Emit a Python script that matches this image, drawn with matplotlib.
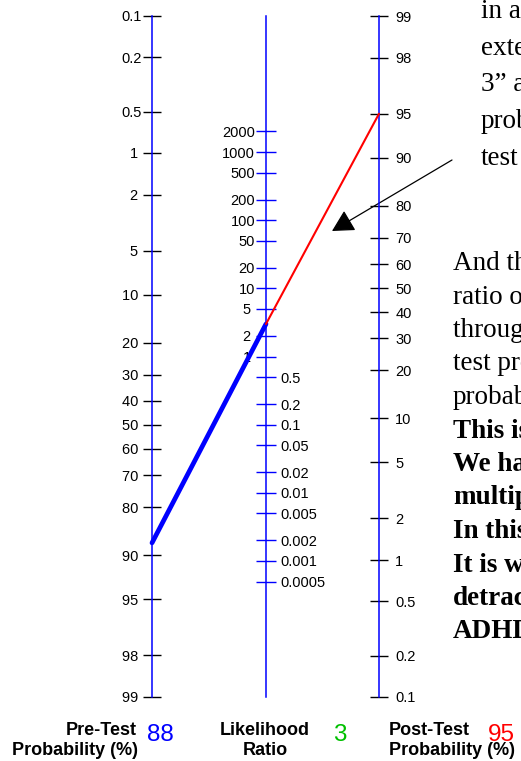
import numpy as np
import matplotlib.pyplot as plt
from matplotlib.patches import ConnectionPatch
from matplotlib.ticker import NullLocator

plt.rcParams['font.family'] = ['Liberation Sans', 'DejaVu Sans']

# nomogram values
pre_ticks = [0.1, 0.2, 0.5, 1, 2, 5, 10, 20, 30, 40, 50, 60, 70, 80, 90, 95, 98, 99]
post_ticks = [99, 98, 95, 90, 80, 70, 60, 50, 40, 30, 20, 10, 5, 2, 1, 0.5, 0.2, 0.1]
lr_ticks_hi = [2000, 1000, 500, 200, 100, 50, 20, 10, 5, 2, 1]
lr_ticks_lo = [0.5, 0.2, 0.1, 0.05, 0.02, 0.01, 0.005, 0.002, 0.001, 0.0005]
pre_test = 88
likelihood_ratio = 3
post_test = 95

# text on the right (cut off by the screenshot)
text_top = ['in a child', 'extend the', '3” and', 'probability', 'test']
text_body = ['And then the', 'ratio of 3', 'through the', 'test probability', 'probability']
text_bold = ['This is', 'We have', 'multiplied', 'In this', 'It is worth', 'detract', 'ADHD']

W, H = 521, 761
fig = plt.figure(figsize=(W / 100, H / 100), dpi=100)

bg = fig.add_axes([0, 0, 1, 1])
bg.set_xlim(0, W)
bg.set_ylim(H, 0)
bg.axis('off')

TOP, BOT = 16, 697
p_lo, p_hi = 0.001, 0.99
lr_hi = (p_hi / (1 - p_hi)) / (p_lo / (1 - p_lo))


def nomo_axis(xpx):
    ax = fig.add_axes([xpx / W, 1 - BOT / H, 0.0005, (BOT - TOP) / H])
    ax.set_xlim(0, 1)
    ax.set_xticks([])
    for s in ['top', 'bottom', 'right']:
        ax.spines[s].set_visible(False)
    ax.spines['left'].set_color('blue')
    ax.spines['left'].set_linewidth(1.1)
    ax.patch.set_visible(False)
    return ax


def fmt(v):
    return f'{v:g}'


# pre-test axis
ax_pre = nomo_axis(152)
ax_pre.set_yscale('logit')
ax_pre.set_ylim(p_hi, p_lo)
ax_pre.set_yticks([v / 100 for v in pre_ticks],
                  [fmt(v) + ('' if v < 1 else ' ') for v in pre_ticks])
ax_pre.yaxis.set_minor_locator(NullLocator())
ax_pre.tick_params(axis='y', direction='inout', length=13, width=1.0,
                   color='black', pad=0.7, labelsize=10.5)

# post-test axis
ax_post = nomo_axis(379)
ax_post.set_yscale('logit')
ax_post.set_ylim(p_lo, p_hi)
ax_post.set_yticks([v / 100 for v in post_ticks], [fmt(v) for v in post_ticks])
ax_post.yaxis.set_minor_locator(NullLocator())
ax_post.yaxis.tick_right()
ax_post.spines['right'].set_visible(False)
ax_post.tick_params(axis='y', direction='inout', length=13.5, width=1.0,
                    color='black', pad=4.7, labelsize=10.5)

# likelihood ratio axis (two overlaid axes: labels left above 1, right below 1)
ax_lr = nomo_axis(266)
ax_lr.set_yscale('log')
ax_lr.set_ylim(1 / lr_hi, lr_hi)
ax_lr.set_yticks(lr_ticks_hi, [fmt(v) + (' ' if v < 10 else '') for v in lr_ticks_hi])
ax_lr.yaxis.set_minor_locator(NullLocator())
ax_lr.tick_params(axis='y', direction='inout', length=14.4, width=1.0,
                  color='blue', pad=0.7, labelsize=10.5)

ax_lr2 = nomo_axis(266)
ax_lr2.spines['left'].set_visible(False)
ax_lr2.set_yscale('log')
ax_lr2.set_ylim(1 / lr_hi, lr_hi)
ax_lr2.set_yticks(lr_ticks_lo, [fmt(v) for v in lr_ticks_lo])
ax_lr2.yaxis.set_minor_locator(NullLocator())
ax_lr2.yaxis.tick_right()
ax_lr2.tick_params(axis='y', direction='inout', length=14.4, width=1.0,
                   color='blue', pad=2.9, labelsize=10.5)

# the connecting line
blue_seg = ConnectionPatch(xyA=(0, pre_test / 100), coordsA=ax_pre.transData,
                           xyB=(0, likelihood_ratio), coordsB=ax_lr.transData,
                           color='blue', lw=3.4, capstyle='round', zorder=5)
red_seg = ConnectionPatch(xyA=(0, likelihood_ratio), coordsA=ax_lr.transData,
                          xyB=(0, post_test / 100), coordsB=ax_post.transData,
                          color='red', lw=1.5, zorder=5)
fig.add_artist(blue_seg)
fig.add_artist(red_seg)

# bottom captions
bold = dict(fontsize=13, fontweight='bold', va='baseline')
num = dict(fontsize=17.5, va='baseline')
bg.text(137, 735, 'Pre-Test', ha='right', **bold)
bg.text(138, 755, 'Probability (%)', ha='right', **bold)
bg.text(147, 741, f'{pre_test}', color='blue', **num)
bg.text(265, 735, 'Likelihood', ha='center', **bold)
bg.text(265, 755, 'Ratio', ha='center', **bold)
bg.text(333, 741, f'{likelihood_ratio}', color='#00c000', **num)
bg.text(389, 735, 'Post-Test', ha='left', **bold)
bg.text(389, 755, 'Probability (%)', ha='left', **bold)
bg.text(488, 741, f'{post_test}', color='red', **num)

# arrow pointing at the red line
bg.annotate('', xy=(332, 231), xytext=(452, 160),
            arrowprops=dict(arrowstyle='-|>,head_length=0.67,head_width=0.36',
                            mutation_scale=20, color='black', lw=0.9,
                            shrinkA=0, shrinkB=0))

# explanatory text, cut at the right edge as in the screenshot
serif = dict(family=['Liberation Serif', 'DejaVu Serif'], fontsize=19.5,
             va='baseline', ha='left', clip_on=True)
for i, line in enumerate(text_top):
    bg.text(481, 18 + i * 36.7, line, **serif)
y = 270
for line in text_body:
    bg.text(453, y, line, **serif)
    y += 33.5
for line in text_bold:
    bg.text(453, y, line, fontweight='bold', **serif)
    y += 33.5

fig.savefig('out.png', dpi=100)
